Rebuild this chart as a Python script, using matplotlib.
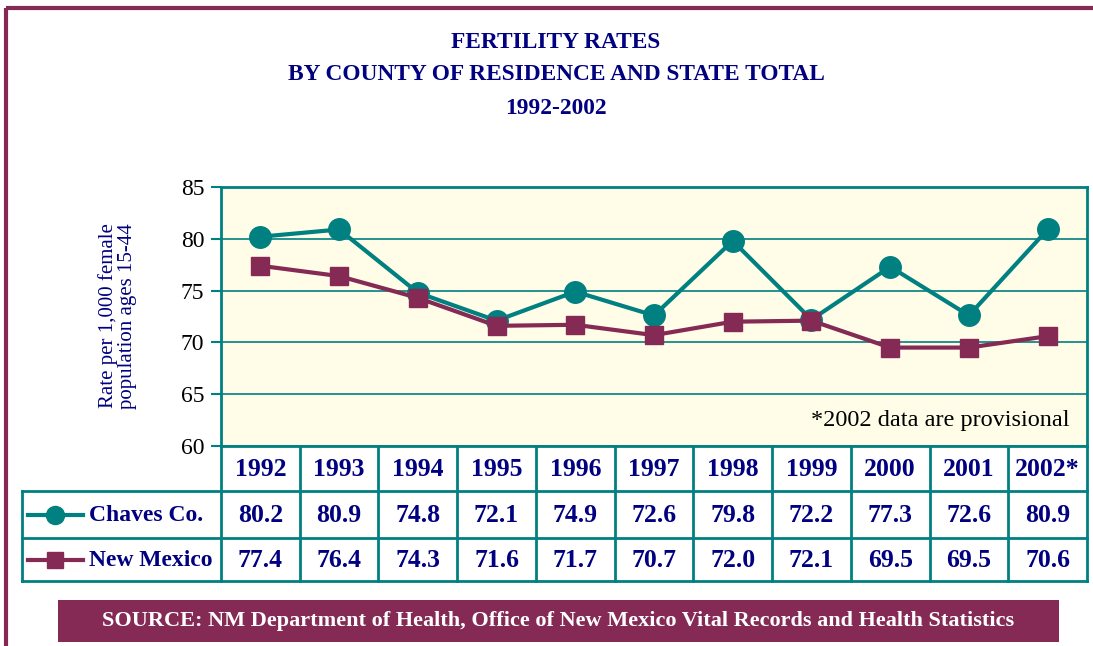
import matplotlib.pyplot as plt
from matplotlib.patches import Rectangle
from matplotlib.lines import Line2D

# Data
years = ['1992', '1993', '1994', '1995', '1996', '1997', '1998', '1999', '2000', '2001', '2002*']
chaves = [80.2, 80.9, 74.8, 72.1, 74.9, 72.6, 79.8, 72.2, 77.3, 72.6, 80.9]
new_mexico = [77.4, 76.4, 74.3, 71.6, 71.7, 70.7, 72.0, 72.1, 69.5, 69.5, 70.6]
series_names = ['Chaves Co.', 'New Mexico']
y_ticks = [60, 65, 70, 75, 80, 85]

TEAL = '#008080'
MAROON = '#852A55'
NAVY = '#000080'
PLOT_BG = '#FFFDE8'

W, H = 1093, 646
plt.rcParams['font.family'] = ['Liberation Serif', 'DejaVu Serif']

fig = plt.figure(figsize=(W / 100, H / 100), dpi=100)

# overlay axes in pixel units for frame, title, table and source box
ov = fig.add_axes([0, 0, 1, 1])
ov.set_xlim(0, W)
ov.set_ylim(H, 0)
ov.axis('off')

# maroon frame (top and left)
ov.add_line(Line2D([6, W], [8, 8], color=MAROON, lw=3, solid_capstyle='butt'))
ov.add_line(Line2D([6, 6], [8, H], color=MAROON, lw=3, solid_capstyle='butt'))

# title
for txt, y in zip(['FERTILITY RATES', 'BY COUNTY OF RESIDENCE AND STATE TOTAL', '1992-2002'], [42, 75, 108]):
    ov.text(556, y, txt, ha='center', va='center', fontsize=16.8, fontweight='bold', color=NAVY)

# y-axis label
ov.text(118, 316, 'Rate per 1,000 female\npopulation ages 15-44', rotation=90, ha='center', va='center',
        fontsize=15, color=NAVY, linespacing=1.0)

# main plot area
px_l, px_r, px_t, px_b = 221, 1087, 187, 446
ax = fig.add_axes([px_l / W, 1 - px_b / H, (px_r - px_l) / W, (px_b - px_t) / H])
ax.set_facecolor(PLOT_BG)
x = list(range(len(years)))
ax.plot(x, chaves, color=TEAL, lw=3, marker='o', markersize=15.5, zorder=3)
ax.plot(x, new_mexico, color=MAROON, lw=3, marker='s', markersize=13, zorder=3)
ax.set_xlim(-0.5, len(years) - 0.5)
ax.set_ylim(60, 85)
ax.set_yticks(y_ticks)
ax.set_yticklabels([str(t) for t in y_ticks], fontsize=17)
ax.tick_params(axis='y', direction='out', length=7, width=1.5, color=TEAL, pad=5)
ax.set_xticks([])
ax.grid(axis='y', color=TEAL, lw=1.2)
ax.set_axisbelow(True)
for s in ax.spines.values():
    s.set_color(TEAL)
    s.set_linewidth(2)
ax.text(0.98, 0.1, '*2002 data are provisional', transform=ax.transAxes, ha='right', va='center',
        fontsize=17.5, color='black')

# data table below the plot
col_w = (px_r - px_l) / len(years)
row_y = [446, 491, 538, 581]
tab_l = 22
for i in range(len(years) + 1):
    xv = px_l + i * col_w
    ov.add_line(Line2D([xv, xv], [row_y[0], row_y[-1]], color=TEAL, lw=2))
ov.add_line(Line2D([tab_l, tab_l], [row_y[1], row_y[-1]], color=TEAL, lw=2))
for yv in row_y[1:]:
    ov.add_line(Line2D([tab_l, px_r], [yv, yv], color=TEAL, lw=2))

for i, yr in enumerate(years):
    cx = px_l + (i + 0.5) * col_w
    ov.text(cx, (row_y[0] + row_y[1]) / 2 + 1, yr, ha='center', va='center', fontsize=18.5,
            fontweight='bold', color=NAVY)
    for r, vals in enumerate([chaves, new_mexico]):
        ov.text(cx, (row_y[r + 1] + row_y[r + 2]) / 2 + 1, f'{vals[i]:.1f}', ha='center', va='center',
                fontsize=18.5, fontweight='bold', color=NAVY)

# legend glyphs inside the table
for r, (name, col, mk, ms) in enumerate(zip(series_names, [TEAL, MAROON], ['o', 's'], [13, 12])):
    cy = (row_y[r + 1] + row_y[r + 2]) / 2
    ov.add_line(Line2D([28, 83], [cy, cy], color=col, lw=3))
    ov.add_line(Line2D([55], [cy], color=col, marker=mk, markersize=ms, lw=0))
    ov.text(89, cy + 1, name, ha='left', va='center', fontsize=17, fontweight='bold', color=NAVY)

# source box
ov.add_patch(Rectangle((58, 600), 1001, 42, facecolor=MAROON, edgecolor='none'))
ov.text(558, 621, 'SOURCE: NM Department of Health, Office of New Mexico Vital Records and Health Statistics',
        ha='center', va='center', fontsize=16, fontweight='bold', color='white')

fig.savefig('out.png', dpi=100)
